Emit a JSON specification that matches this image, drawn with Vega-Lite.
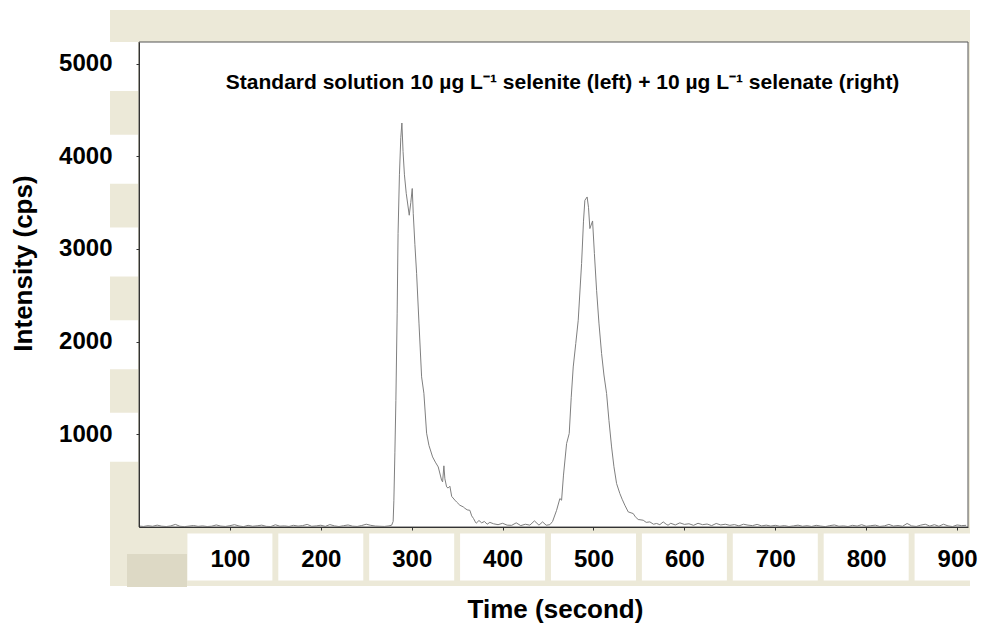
{
  "$schema": "https://vega.github.io/schema/vega-lite/v6.json",
  "width": 829,
  "height": 485,
  "autosize": {"type": "none"},
  "padding": {"left": 139, "top": 42, "right": 16, "bottom": 96},
  "background": "white",
  "config": {"view": {"stroke": null}, "font": "Liberation Sans"},
  "datasets": {
    "xticks": [{"t": 100}, {"t": 200}, {"t": 300}, {"t": 400}, {"t": 500}, {"t": 600}, {"t": 700}, {"t": 800}, {"t": 900}],
    "yticks": [{"v": 1000}, {"v": 2000}, {"v": 3000}, {"v": 4000}, {"v": 5000}],
    "heading": [{"label": "Standard solution 10 µg L⁻¹ selenite (left) + 10 µg L⁻¹ selenate (right)", "time": 466, "intensity": 4730}],
    "trace": [
      {"time": 0, "intensity": 10}, {"time": 5, "intensity": 6}, {"time": 10, "intensity": 14}, {"time": 15, "intensity": 8},
      {"time": 20, "intensity": 20}, {"time": 25, "intensity": 9}, {"time": 30, "intensity": 5}, {"time": 35, "intensity": 12},
      {"time": 40, "intensity": 28}, {"time": 45, "intensity": 8}, {"time": 50, "intensity": 4}, {"time": 55, "intensity": 10},
      {"time": 60, "intensity": 16}, {"time": 65, "intensity": 7}, {"time": 70, "intensity": 12}, {"time": 75, "intensity": 5},
      {"time": 80, "intensity": 9}, {"time": 85, "intensity": 22}, {"time": 90, "intensity": 10}, {"time": 95, "intensity": 6},
      {"time": 100, "intensity": 14}, {"time": 105, "intensity": 25}, {"time": 110, "intensity": 11}, {"time": 115, "intensity": 4},
      {"time": 120, "intensity": 18}, {"time": 125, "intensity": 8}, {"time": 130, "intensity": 13}, {"time": 135, "intensity": 20},
      {"time": 140, "intensity": 7}, {"time": 145, "intensity": 5}, {"time": 150, "intensity": 24}, {"time": 155, "intensity": 9},
      {"time": 160, "intensity": 12}, {"time": 165, "intensity": 6}, {"time": 170, "intensity": 18}, {"time": 175, "intensity": 10},
      {"time": 180, "intensity": 15}, {"time": 185, "intensity": 28}, {"time": 190, "intensity": 8}, {"time": 195, "intensity": 12},
      {"time": 200, "intensity": 19}, {"time": 205, "intensity": 7}, {"time": 210, "intensity": 26}, {"time": 215, "intensity": 12},
      {"time": 220, "intensity": 5}, {"time": 225, "intensity": 14}, {"time": 230, "intensity": 22}, {"time": 235, "intensity": 9},
      {"time": 240, "intensity": 6}, {"time": 245, "intensity": 16}, {"time": 250, "intensity": 30}, {"time": 255, "intensity": 18},
      {"time": 260, "intensity": 10}, {"time": 265, "intensity": 8}, {"time": 270, "intensity": 6}, {"time": 275, "intensity": 12},
      {"time": 278, "intensity": 20}, {"time": 279.6, "intensity": 60}, {"time": 280.4, "intensity": 289}, {"time": 281.5, "intensity": 800},
      {"time": 282.6, "intensity": 1366}, {"time": 284, "intensity": 2300}, {"time": 285, "intensity": 3169}, {"time": 286.5, "intensity": 3800},
      {"time": 288, "intensity": 4200}, {"time": 289.2, "intensity": 4359}, {"time": 290.5, "intensity": 4050}, {"time": 292, "intensity": 3800},
      {"time": 294, "intensity": 3600}, {"time": 297.3, "intensity": 3364}, {"time": 299, "intensity": 3500}, {"time": 300.6, "intensity": 3652},
      {"time": 301.7, "intensity": 3385}, {"time": 303.5, "intensity": 3050}, {"time": 305.4, "intensity": 2737}, {"time": 308, "intensity": 2200},
      {"time": 310.9, "intensity": 1620}, {"time": 313.4, "intensity": 1443}, {"time": 316.4, "intensity": 1012}, {"time": 319, "intensity": 880},
      {"time": 323, "intensity": 756}, {"time": 326, "intensity": 700}, {"time": 329.2, "intensity": 648}, {"time": 332.9, "intensity": 505},
      {"time": 334, "intensity": 487}, {"time": 335.4, "intensity": 660}, {"time": 336.5, "intensity": 520}, {"time": 338.4, "intensity": 433},
      {"time": 340, "intensity": 420}, {"time": 342, "intensity": 440}, {"time": 344, "intensity": 330}, {"time": 347.5, "intensity": 290},
      {"time": 349.4, "intensity": 270}, {"time": 353, "intensity": 235}, {"time": 356.7, "intensity": 217}, {"time": 358.5, "intensity": 202},
      {"time": 361, "intensity": 185}, {"time": 364, "intensity": 180}, {"time": 366, "intensity": 120}, {"time": 368, "intensity": 92},
      {"time": 370, "intensity": 55}, {"time": 371, "intensity": 41}, {"time": 374, "intensity": 70}, {"time": 377, "intensity": 45},
      {"time": 380, "intensity": 60}, {"time": 383, "intensity": 30}, {"time": 386, "intensity": 50}, {"time": 390, "intensity": 35},
      {"time": 395, "intensity": 25}, {"time": 400, "intensity": 40}, {"time": 405, "intensity": 20}, {"time": 410, "intensity": 18},
      {"time": 415, "intensity": 45}, {"time": 420, "intensity": 15}, {"time": 425, "intensity": 30}, {"time": 430, "intensity": 20},
      {"time": 435, "intensity": 66}, {"time": 440, "intensity": 20}, {"time": 444, "intensity": 55}, {"time": 448, "intensity": 19},
      {"time": 452, "intensity": 25}, {"time": 455, "intensity": 60}, {"time": 459.4, "intensity": 180}, {"time": 463, "intensity": 307},
      {"time": 464.9, "intensity": 289}, {"time": 467, "intensity": 560}, {"time": 470.4, "intensity": 900}, {"time": 473.3, "intensity": 1009},
      {"time": 475.5, "intensity": 1400}, {"time": 477.7, "intensity": 1727}, {"time": 480.5, "intensity": 1980}, {"time": 483.2, "intensity": 2231},
      {"time": 486.9, "intensity": 2843}, {"time": 489, "intensity": 3300}, {"time": 490.5, "intensity": 3525}, {"time": 493, "intensity": 3561},
      {"time": 494.5, "intensity": 3450}, {"time": 496, "intensity": 3220}, {"time": 499, "intensity": 3302}, {"time": 501, "intensity": 2950},
      {"time": 503.4, "intensity": 2554}, {"time": 506, "intensity": 2200}, {"time": 508.9, "intensity": 1871}, {"time": 511.5, "intensity": 1640},
      {"time": 514.4, "intensity": 1440}, {"time": 517, "intensity": 1150}, {"time": 519.9, "intensity": 864}, {"time": 522.5, "intensity": 650},
      {"time": 525.4, "intensity": 469}, {"time": 529, "intensity": 361}, {"time": 531.5, "intensity": 300}, {"time": 534.5, "intensity": 235},
      {"time": 538.2, "intensity": 163}, {"time": 543.7, "intensity": 145}, {"time": 546, "intensity": 110}, {"time": 549.2, "intensity": 81},
      {"time": 554.7, "intensity": 73}, {"time": 558, "intensity": 50}, {"time": 562, "intensity": 55}, {"time": 566, "intensity": 30},
      {"time": 569.4, "intensity": 38}, {"time": 573, "intensity": 25}, {"time": 576.7, "intensity": 55}, {"time": 580, "intensity": 30},
      {"time": 582, "intensity": 19}, {"time": 585, "intensity": 40}, {"time": 590, "intensity": 22}, {"time": 595, "intensity": 45},
      {"time": 600, "intensity": 28}, {"time": 605, "intensity": 35}, {"time": 610, "intensity": 18}, {"time": 615, "intensity": 40},
      {"time": 620, "intensity": 25}, {"time": 625, "intensity": 32}, {"time": 630, "intensity": 15}, {"time": 635, "intensity": 38},
      {"time": 640, "intensity": 22}, {"time": 645, "intensity": 30}, {"time": 650, "intensity": 18}, {"time": 655, "intensity": 26},
      {"time": 660, "intensity": 12}, {"time": 665, "intensity": 30}, {"time": 670, "intensity": 20}, {"time": 675, "intensity": 15},
      {"time": 680, "intensity": 28}, {"time": 685, "intensity": 12}, {"time": 690, "intensity": 20}, {"time": 695, "intensity": 10},
      {"time": 700, "intensity": 18}, {"time": 705, "intensity": 8}, {"time": 710, "intensity": 15}, {"time": 715, "intensity": 5},
      {"time": 720, "intensity": 12}, {"time": 725, "intensity": 20}, {"time": 730, "intensity": 8}, {"time": 735, "intensity": 14},
      {"time": 740, "intensity": 6}, {"time": 745, "intensity": 18}, {"time": 750, "intensity": 10}, {"time": 755, "intensity": 4},
      {"time": 760, "intensity": 15}, {"time": 765, "intensity": 22}, {"time": 770, "intensity": 8}, {"time": 775, "intensity": 12},
      {"time": 780, "intensity": 5}, {"time": 785, "intensity": 18}, {"time": 790, "intensity": 10}, {"time": 795, "intensity": 25},
      {"time": 800, "intensity": 8}, {"time": 805, "intensity": 14}, {"time": 810, "intensity": 20}, {"time": 815, "intensity": 6},
      {"time": 820, "intensity": 12}, {"time": 825, "intensity": 28}, {"time": 830, "intensity": 10}, {"time": 835, "intensity": 16},
      {"time": 840, "intensity": 8}, {"time": 845, "intensity": 38}, {"time": 850, "intensity": 12}, {"time": 855, "intensity": 6},
      {"time": 860, "intensity": 20}, {"time": 865, "intensity": 30}, {"time": 870, "intensity": 10}, {"time": 875, "intensity": 25},
      {"time": 880, "intensity": 8}, {"time": 885, "intensity": 30}, {"time": 890, "intensity": 12}, {"time": 895, "intensity": 5},
      {"time": 900, "intensity": 22}, {"time": 905, "intensity": 15}, {"time": 910, "intensity": 18}
    ]
  },
  "layer": [
    {
      "data": {"values": [{}]},
      "mark": {"type": "rect", "fill": "#ECE9D8", "clip": false, "xOffset": -29, "x2Offset": 2, "yOffset": 59, "y2Offset": -32},
      "encoding": {
        "x": {"datum": 0, "type": "quantitative", "scale": {"domain": [0, 912], "nice": false, "zero": false}},
        "x2": {"datum": 912},
        "y": {"datum": 0, "type": "quantitative", "scale": {"domain": [0, 5233], "nice": false, "zero": false}},
        "y2": {"datum": 5233}
      }
    },
    {
      "data": {"values": [{}]},
      "mark": {"type": "rect", "fill": "#DDD9C5", "clip": false, "xOffset": -12, "x2Offset": 48, "yOffset": 27, "y2Offset": 60},
      "encoding": {
        "x": {"datum": 0, "type": "quantitative"},
        "x2": {"datum": 0},
        "y": {"datum": 0, "type": "quantitative"},
        "y2": {"datum": 0}
      }
    },
    {
      "data": {"values": [{}]},
      "mark": {"type": "rect", "fill": "white", "stroke": "#555555", "strokeWidth": 1, "clip": false},
      "encoding": {
        "x": {"datum": 0, "type": "quantitative"},
        "x2": {"datum": 912},
        "y": {"datum": 0, "type": "quantitative"},
        "y2": {"datum": 5233}
      }
    },
    {
      "data": {"name": "xticks"},
      "mark": {"type": "rect", "fill": "white", "width": 85, "height": 47, "yOffset": 30, "clip": false},
      "encoding": {
        "x": {"field": "t", "type": "quantitative", "title": "Time (second)"},
        "y": {"datum": 0, "type": "quantitative"}
      }
    },
    {
      "data": {"name": "yticks"},
      "mark": {"type": "rect", "fill": "white", "width": 28, "height": 49, "xOffset": -15, "yOffset": 3, "clip": false},
      "encoding": {
        "x": {"datum": 0, "type": "quantitative"},
        "y": {"field": "v", "type": "quantitative", "title": "Intensity (cps)"}
      }
    },
    {
      "data": {"name": "trace"},
      "mark": {"type": "line", "stroke": "#7f7f7f", "strokeWidth": 1, "clip": true},
      "encoding": {
        "x": {
          "field": "time",
          "type": "quantitative",
          "title": "Time (second)",
          "scale": {"domain": [0, 912], "nice": false, "zero": false},
          "axis": {
            "values": [100, 200, 300, 400, 500, 600, 700, 800, 900],
            "format": "d",
            "titleFont": "Liberation Sans",
            "titleFontSize": 26,
            "titleFontWeight": "bold",
            "titleColor": "black",
            "titleX": 416,
            "titleY": 90,
            "titleAlign": "center",
            "titleBaseline": "alphabetic",
            "labelFont": "Liberation Sans",
            "labelFontSize": 24,
            "labelFontWeight": "bold",
            "labelColor": "black",
            "labelPadding": 17,
            "labelFlush": false,
            "labelOverlap": false,
            "tickSize": 3,
            "tickColor": "#333333",
            "domainColor": "#333333",
            "grid": false,
            "zindex": 1
          }
        },
        "y": {
          "field": "intensity",
          "type": "quantitative",
          "title": "Intensity (cps)",
          "scale": {"domain": [0, 5233], "nice": false, "zero": false},
          "axis": {
            "values": [1000, 2000, 3000, 4000, 5000],
            "format": "d",
            "titleFont": "Liberation Sans",
            "titleFontSize": 26,
            "titleFontWeight": "bold",
            "titleColor": "black",
            "titleAngle": -90,
            "titleX": -108,
            "titleY": 221,
            "titleAlign": "center",
            "titleBaseline": "alphabetic",
            "labelFont": "Liberation Sans",
            "labelFontSize": 24,
            "labelFontWeight": "bold",
            "labelColor": "black",
            "labelPadding": 24,
            "labelFlush": false,
            "labelOverlap": false,
            "tickSize": 3,
            "tickColor": "#333333",
            "domainColor": "#333333",
            "grid": false,
            "zindex": 1
          }
        }
      }
    },
    {
      "data": {"name": "heading"},
      "mark": {"type": "text", "font": "Liberation Sans", "fontSize": 21, "fontWeight": "bold", "color": "black", "align": "center", "baseline": "alphabetic"},
      "encoding": {
        "x": {"field": "time", "type": "quantitative", "title": "Time (second)"},
        "y": {"field": "intensity", "type": "quantitative", "title": "Intensity (cps)"},
        "text": {"field": "label"}
      }
    }
  ]
}
